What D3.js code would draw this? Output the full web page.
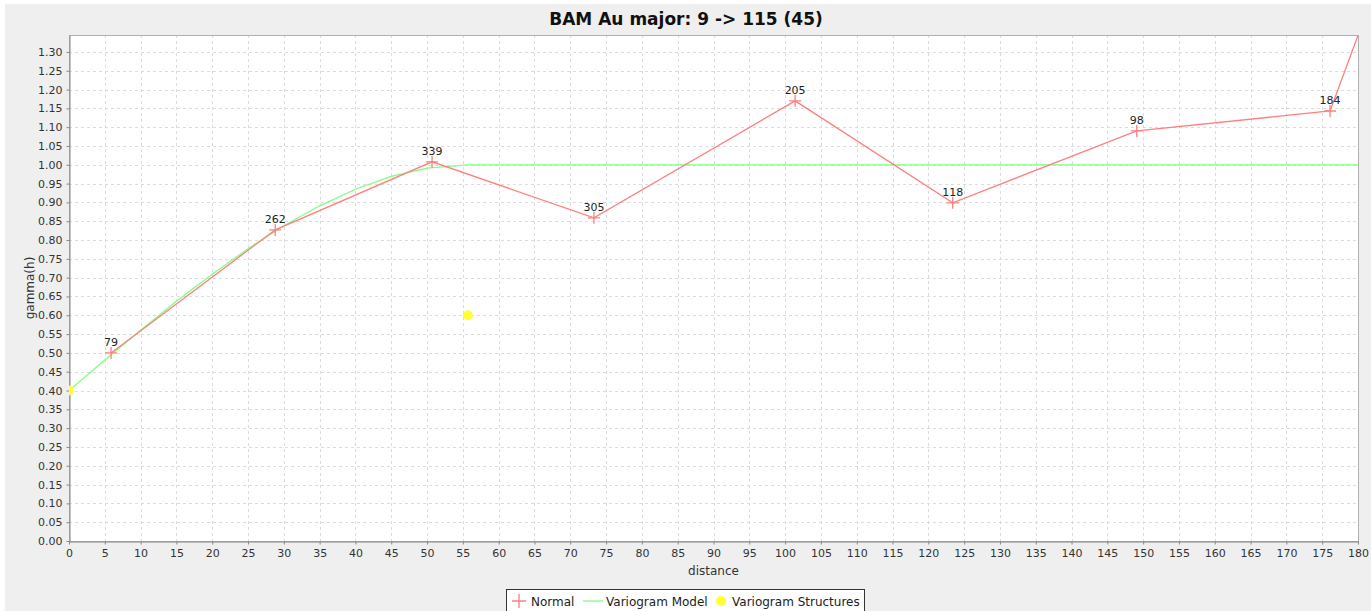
<!DOCTYPE html>
<html>
<head>
<meta charset="utf-8">
<script src="https://cdn.jsdelivr.net/npm/d3@7/dist/d3.min.js"></script>
<style>
  html, body { margin: 0; padding: 0; background: #ffffff; }
  svg { display: block; font-family: "DejaVu Sans", "Liberation Sans", sans-serif; }
</style>
</head>
<body>
<svg id="chart" width="1371" height="611"></svg>
<script>
// Experimental variogram (lag distance, gamma, pair count)
const lagDistance = [5.87, 28.8, 50.7, 73.3, 101.4, 123.4, 149.1, 176.1, 184];
const lagGamma    = [0.50, 0.827, 1.008, 0.859, 1.170, 0.899, 1.090, 1.143, 1.55];
const lagPairs    = [79, 262, 339, 305, 205, 118, 98, 184, 156];

// Fitted model curve
const modelDistance = [0, 5, 10, 15, 20, 25, 30, 35, 40, 45, 50, 55.7, 180];
const modelGamma    = [0.40, 0.481, 0.560, 0.637, 0.709, 0.777, 0.838, 0.891, 0.935, 0.969, 0.991, 1.00, 1.00];

// Model structures (nugget, then range / sill contribution)
const structDistance = [0, 55.7];
const structGamma    = [0.40, 0.60];

const xTicks = d3.range(0, 181, 5);
const yTicks = d3.range(0, 27).map(i => +(i * 0.05).toFixed(2));

const svg = d3.select("#chart");
const W = 1371, H = 611;
const plot = { left: 69, top: 35, right: 1358, bottom: 541 };

svg.append("rect").attr("x", 5).attr("y", 4).attr("width", W - 5).attr("height", H - 4).attr("fill", "#efefef");

const x = d3.scaleLinear().domain([0, 180]).range([plot.left, plot.right]);
const y = d3.scaleLinear().domain([0, 1.345]).range([plot.bottom, plot.top]);

svg.append("rect")
  .attr("x", plot.left).attr("y", plot.top)
  .attr("width", plot.right - plot.left).attr("height", plot.bottom - plot.top)
  .attr("fill", "#ffffff");

// grid
const grid = svg.append("g").attr("stroke", "#dcdcdc").attr("stroke-dasharray", "3,3").attr("stroke-width", 1);
xTicks.slice(1, -1).forEach(t => {
  grid.append("line").attr("x1", Math.round(x(t)) + 0.5).attr("x2", Math.round(x(t)) + 0.5)
    .attr("y1", plot.top).attr("y2", plot.bottom);
});
yTicks.slice(1).forEach(t => {
  grid.append("line").attr("y1", Math.round(y(t)) + 0.5).attr("y2", Math.round(y(t)) + 0.5)
    .attr("x1", plot.left).attr("x2", plot.right);
});

svg.append("rect")
  .attr("x", plot.left + 0.5).attr("y", plot.top + 0.5)
  .attr("width", plot.right - plot.left).attr("height", plot.bottom - plot.top)
  .attr("fill", "none").attr("stroke", "#b0b0b0");

// axes
const xAxis = svg.append("g").attr("transform", `translate(0,${plot.bottom + 0.5})`)
  .call(d3.axisBottom(x).tickValues(xTicks).tickFormat(d3.format("d")).tickSize(3).tickSizeOuter(0));
const yAxis = svg.append("g").attr("transform", `translate(${plot.left + 0.5},0)`)
  .call(d3.axisLeft(y).tickValues(yTicks).tickFormat(d3.format(".2f")).tickSize(3).tickSizeOuter(0));
[xAxis, yAxis].forEach(a => {
  a.select(".domain").attr("stroke", "#888888");
  a.selectAll(".tick line").attr("stroke", "#888888");
  a.selectAll(".tick text").attr("fill", "#333333").style("font-size", "11px")
    .style("font-family", "'DejaVu Sans', sans-serif");
});
xAxis.selectAll(".tick text").attr("dy", "0.85em");
yAxis.selectAll(".tick text").attr("dx", "-1");

// titles
svg.append("text").attr("x", 686).attr("y", 25).attr("text-anchor", "middle")
  .style("font-size", "17px").style("font-weight", "bold").attr("fill", "#111")
  .text("BAM Au major: 9 -> 115 (45)");
svg.append("text").attr("x", (plot.left + plot.right) / 2).attr("y", 575).attr("text-anchor", "middle")
  .style("font-size", "12px").attr("fill", "#333").text("distance");
svg.append("text").attr("transform", `translate(34,${(plot.top + plot.bottom) / 2}) rotate(-90)`)
  .attr("text-anchor", "middle").style("font-size", "12px").attr("fill", "#333").text("gamma(h)");

// clip
svg.append("clipPath").attr("id", "plotClip").append("rect")
  .attr("x", plot.left).attr("y", plot.top)
  .attr("width", plot.right - plot.left).attr("height", plot.bottom - plot.top);
const g = svg.append("g").attr("clip-path", "url(#plotClip)");

const red = "#ff7f7f", green = "#7fff7f", yellow = "#ffff33";

const line = d3.line().x(d => x(d[0])).y(d => y(d[1]));

const model = modelDistance.map((d, i) => [d, modelGamma[i]]);
g.append("path").datum(model).attr("d", line).attr("fill", "none").attr("stroke", green).attr("stroke-width", 1.3);

const lags = lagDistance.map((d, i) => [d, lagGamma[i], lagPairs[i]]);
g.append("path").datum(lags).attr("d", line).attr("fill", "none").attr("stroke", red).attr("stroke-width", 1.3);

// markers and pair counts only for lags inside the axis range
const [x0, x1] = x.domain(), [y0, y1] = y.domain();
lags.filter(d => d[0] >= x0 && d[0] <= x1 && d[1] >= y0 && d[1] <= y1).forEach(d => {
  const px = x(d[0]), py = y(d[1]);
  g.append("path").attr("d", `M${px - 6},${py}H${px + 6}M${px},${py - 6}V${py + 6}`)
    .attr("stroke", red).attr("stroke-width", 1.3);
  g.append("text").attr("x", px).attr("y", py - 7).attr("text-anchor", "middle")
    .style("font-size", "11px").attr("fill", "#222").text(d[2]);
});

structDistance.forEach((d, i) => {
  g.append("circle").attr("cx", x(d)).attr("cy", y(structGamma[i])).attr("r", 5).attr("fill", yellow);
});

// legend
const lg = svg.append("g");
lg.append("rect").attr("x", 506.5).attr("y", 589.5).attr("width", 358).attr("height", 24)
  .attr("fill", "#ffffff").attr("stroke", "#333").attr("stroke-width", 1);
const ly = 601;
lg.append("path").attr("d", `M512,${ly}H526M519,${ly - 7}V${ly + 7}`).attr("stroke", red).attr("stroke-width", 1.3);
lg.append("text").attr("x", 531).attr("y", ly + 4.5).style("font-size", "12px").attr("fill", "#222").text("Normal");
lg.append("line").attr("x1", 583).attr("x2", 603).attr("y1", ly).attr("y2", ly).attr("stroke", green).attr("stroke-width", 1.3);
lg.append("text").attr("x", 606).attr("y", ly + 4.5).style("font-size", "12px").attr("fill", "#222").text("Variogram Model");
lg.append("circle").attr("cx", 721).attr("cy", ly).attr("r", 5).attr("fill", yellow);
lg.append("text").attr("x", 732).attr("y", ly + 4.5).style("font-size", "12px").attr("fill", "#222").text("Variogram Structures");
</script>
</body>
</html>
